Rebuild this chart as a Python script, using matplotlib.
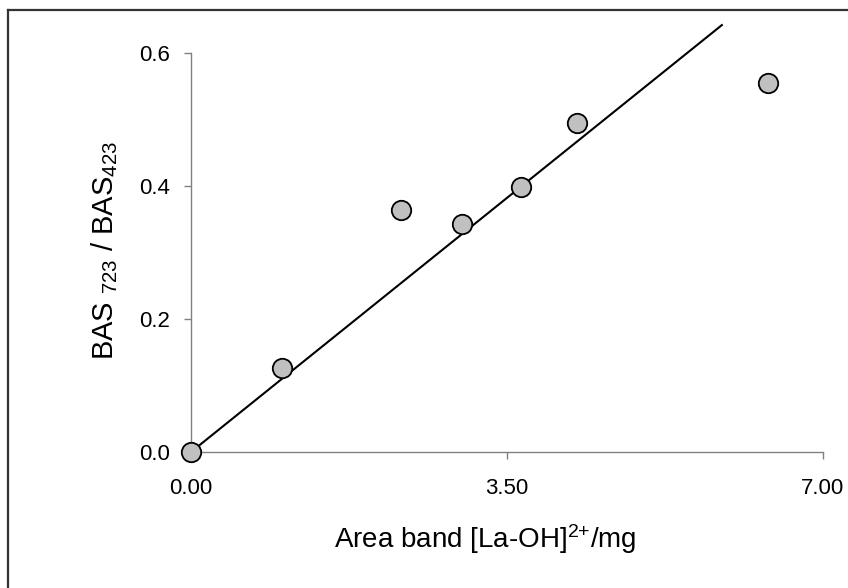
import matplotlib
matplotlib.use("Agg")
import matplotlib.pyplot as plt
from matplotlib.lines import Line2D

plt.rcParams['font.family'] = ['Liberation Sans', 'DejaVu Sans']
plt.rcParams['mathtext.fontset'] = 'custom'
plt.rcParams['mathtext.rm'] = 'Liberation Sans'
plt.rcParams['mathtext.it'] = 'Liberation Sans'
plt.rcParams['mathtext.bf'] = 'Liberation Sans:bold'

# measured points
area = [0.0, 1.01, 2.33, 3.00, 3.66, 4.28, 6.39]
ratio = [0.0, 0.126, 0.364, 0.343, 0.399, 0.495, 0.555]

# fitted line
fit_x = [0.0, 5.88]
fit_y = [0.0, 0.642]

x_ticks = [0.0, 3.5, 7.0]
x_tick_labels = ["0.00", "3.50", "7.00"]
y_ticks = [0.0, 0.2, 0.4, 0.6]
y_tick_labels = ["0.0", "0.2", "0.4", "0.6"]

fig = plt.figure(figsize=(8.48, 5.88), dpi=100)
ax = fig.add_axes([191 / 848, 1 - 452 / 588, (823 - 191) / 848, (452 - 53) / 588])

ax.plot(fit_x, fit_y, color='black', linewidth=1.5, zorder=2, clip_on=False)
ax.plot(area, ratio, linestyle='none', marker='o', markersize=14,
        markerfacecolor='#c0c0c0', markeredgecolor='black', markeredgewidth=1.3,
        zorder=3, clip_on=False)

ax.set_xlim(0, 7)
ax.set_ylim(0, 0.6)
ax.set_xticks(x_ticks)
ax.set_xticklabels(x_tick_labels)
ax.set_yticks(y_ticks)
ax.set_yticklabels(y_tick_labels)

for side in ['top', 'right']:
    ax.spines[side].set_visible(False)
for side in ['left', 'bottom']:
    ax.spines[side].set_color('#808080')
    ax.spines[side].set_linewidth(1.0)

ax.tick_params(axis='both', direction='out', length=5, width=1.0, color='#808080',
               labelsize=16, pad=10)
ax.tick_params(axis='x', pad=14)

ax.set_xlabel('Area band [La-OH]$^{2{+}}$/mg', fontsize=20)
ax.set_ylabel('BAS $_{723}$ / BAS$_{423}$', fontsize=21)
ax.xaxis.set_label_coords(0.465, -0.175)
ax.yaxis.set_label_coords(-0.112, 0.505)

# outer frame (cropped at right and bottom)
fig.add_artist(Line2D([8 / 848, 8 / 848], [0, 1 - 10 / 588], transform=fig.transFigure,
                      color='#333333', linewidth=1.6))
fig.add_artist(Line2D([8 / 848, 1], [1 - 10 / 588, 1 - 10 / 588], transform=fig.transFigure,
                      color='#333333', linewidth=1.6))

fig.savefig('out.png', dpi=100)
